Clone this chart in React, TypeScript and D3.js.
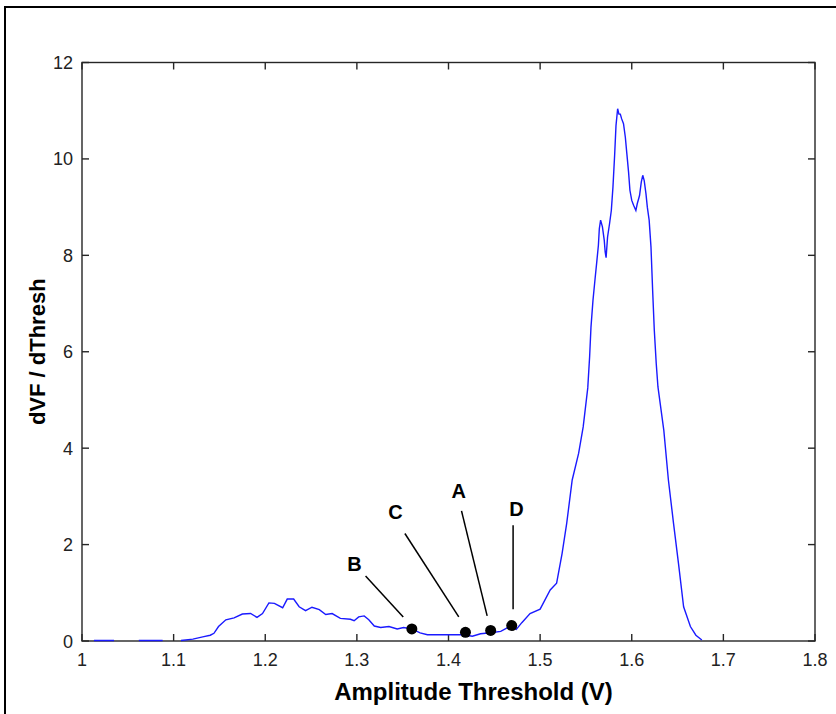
import React from "react";
import * as d3 from "d3";

// ---- data ----
const thresh: (number | null)[] = [
  1.013, 1.035, null,
  1.062, 1.088, null,
  1.108, 1.121, 1.133, 1.140, 1.144, 1.149, 1.157, 1.166, 1.175, 1.184, 1.191, 1.197,
  1.204, 1.210, 1.219, 1.224, 1.231, 1.237, 1.244, 1.251, 1.259, 1.266, 1.273, 1.282,
  1.293, 1.297, 1.302, 1.308, 1.313, 1.319, 1.326, 1.335, 1.344, 1.351, 1.360, 1.369,
  1.377, 1.413, 1.420, 1.426, 1.435, 1.446, 1.457, 1.464, 1.469, 1.474, 1.480, 1.489,
  1.500, 1.511, 1.518, 1.524, 1.529, 1.535, 1.542, 1.547, 1.552, 1.554, 1.5555, 1.5577,
  1.560, 1.5618, 1.5636, 1.5646, 1.566, 1.568, 1.570, 1.571, 1.572, 1.5736, 1.5758,
  1.5777, 1.5795, 1.5813, 1.5828, 1.5846, 1.586, 1.5875, 1.589, 1.591, 1.593, 1.5947,
  1.5965, 1.598, 1.600, 1.602, 1.6045, 1.606, 1.6085, 1.6104, 1.612, 1.6136, 1.6155,
  1.617, 1.619, 1.621, 1.6228, 1.6246, 1.6267, 1.6286, 1.635, 1.640, 1.6456, 1.651,
  1.6566, 1.664, 1.670, 1.6765,
];
const dvf: (number | null)[] = [
  0.01, 0.01, null,
  0.01, 0.01, null,
  0.01, 0.04, 0.09, 0.12, 0.16, 0.30, 0.44, 0.48, 0.56, 0.57, 0.49, 0.57,
  0.79, 0.78, 0.69, 0.87, 0.87, 0.71, 0.63, 0.70, 0.65, 0.55, 0.57, 0.47,
  0.45, 0.42, 0.50, 0.52, 0.44, 0.31, 0.28, 0.30, 0.25, 0.28, 0.25, 0.17,
  0.13, 0.13, 0.12, 0.10, 0.15, 0.17, 0.20, 0.27, 0.29, 0.24, 0.38, 0.57,
  0.66, 1.06, 1.20, 1.82, 2.44, 3.34, 3.89, 4.44, 5.25, 5.89, 6.51, 7.07,
  7.52, 7.86, 8.21, 8.55, 8.73, 8.59, 8.31, 8.07, 7.95, 8.38, 8.66,
  8.93, 9.42, 10.07, 10.69, 11.04, 10.93, 10.93, 10.83, 10.73, 10.45, 10.10,
  9.73, 9.35, 9.14, 9.04, 8.93, 9.07, 9.24, 9.52, 9.66, 9.55, 9.28,
  9.00, 8.73, 8.17, 7.27, 6.45, 5.76, 5.27, 4.37, 3.34, 2.44, 1.61,
  0.71, 0.30, 0.12, 0.02,
];

const markerLabels = ["B", "C", "A", "D"];
const markerX = [1.36, 1.4185, 1.446, 1.469];
const markerY = [0.25, 0.18, 0.22, 0.32];
const labelX = [1.2975, 1.3422, 1.4112, 1.4741];
const labelY = [1.6, 2.68, 3.12, 2.75];
const leaderX1 = [1.3095, 1.3524, 1.4142, 1.4705];
const leaderY1 = [1.35, 2.23, 2.7, 2.4];
const leaderX2 = [1.3506, 1.4112, 1.4422, 1.4705];
const leaderY2 = [0.5, 0.5, 0.52, 0.66];

const xTicks = [1, 1.1, 1.2, 1.3, 1.4, 1.5, 1.6, 1.7, 1.8];
const xTickLabels = ["1", "1.1", "1.2", "1.3", "1.4", "1.5", "1.6", "1.7", "1.8"];
const yTicks = [0, 2, 4, 6, 8, 10, 12];
const yTickLabels = ["0", "2", "4", "6", "8", "10", "12"];

const xTitle = "Amplitude Threshold (V)";
const yTitle = "dVF / dThresh";

export default function App() {
  const W = 836, H = 714;
  const L = 82, R = 815, T = 62.5, B = 641;
  const x = d3.scaleLinear().domain([1, 1.8]).range([L, R]);
  const y = d3.scaleLinear().domain([0, 12]).range([B, T]);
  const pts = thresh.map((t, i) => [t, dvf[i]] as [number | null, number | null]);
  const line = d3
    .line<[number | null, number | null]>()
    .defined((d) => d[0] != null && d[1] != null)
    .x((d) => x(d[0] as number))
    .y((d) => y(d[1] as number));
  const font = "Arial, 'Liberation Sans', Helvetica, sans-serif";
  const tickLen = 7;
  const axisColor = "#262626";
  return (
    <svg
      width={W}
      height={H}
      style={{ position: "absolute", left: 0, top: 0, background: "#fff" }}
      fontFamily={font}
    >
      <rect x={0} y={0} width={W} height={H} fill="#fff" />
      <rect x={5} y={7} width={W + 20} height={H + 20} fill="none" stroke="#000" strokeWidth={2} />
      {/* axes box */}
      <rect x={L} y={T} width={R - L} height={B - T} fill="none" stroke={axisColor} strokeWidth={1.4} />
      {xTicks.map((t, i) => (
        <g key={"xt" + i}>
          <line x1={x(t)} x2={x(t)} y1={B} y2={B - tickLen} stroke={axisColor} strokeWidth={1.4} />
          <line x1={x(t)} x2={x(t)} y1={T} y2={T + tickLen} stroke={axisColor} strokeWidth={1.4} />
          <text x={x(t)} y={B + 25} textAnchor="middle" fontSize={18} fill="#222">
            {xTickLabels[i]}
          </text>
        </g>
      ))}
      {yTicks.map((t, i) => (
        <g key={"yt" + i}>
          <line x1={L} x2={L + tickLen} y1={y(t)} y2={y(t)} stroke={axisColor} strokeWidth={1.4} />
          <line x1={R} x2={R - tickLen} y1={y(t)} y2={y(t)} stroke={axisColor} strokeWidth={1.4} />
          <text x={L - 9} y={y(t) + 6.5} textAnchor="end" fontSize={18} fill="#222">
            {yTickLabels[i]}
          </text>
        </g>
      ))}
      <path d={line(pts) || ""} fill="none" stroke="#1a1aff" strokeWidth={1.4} />
      {markerLabels.map((m, i) => (
        <g key={"m" + i}>
          <line
            x1={x(leaderX1[i])}
            y1={y(leaderY1[i])}
            x2={x(leaderX2[i])}
            y2={y(leaderY2[i])}
            stroke="#000"
            strokeWidth={1.5}
          />
          <circle cx={x(markerX[i])} cy={y(markerY[i])} r={5.5} fill="#000" />
          <text
            x={x(labelX[i])}
            y={y(labelY[i]) + 7.5}
            textAnchor="middle"
            fontSize={20}
            fontWeight="bold"
            fill="#000"
          >
            {m}
          </text>
        </g>
      ))}
      <text x={(L + R) / 2 + 25} y={700} textAnchor="middle" fontSize={24} fontWeight="bold" fill="#000">
        {xTitle}
      </text>
      <text
        transform={`translate(45, ${(T + B) / 2}) rotate(-90)`}
        textAnchor="middle"
        fontSize={22}
        fontWeight="bold"
        fill="#000"
      >
        {yTitle}
      </text>
    </svg>
  );
}
